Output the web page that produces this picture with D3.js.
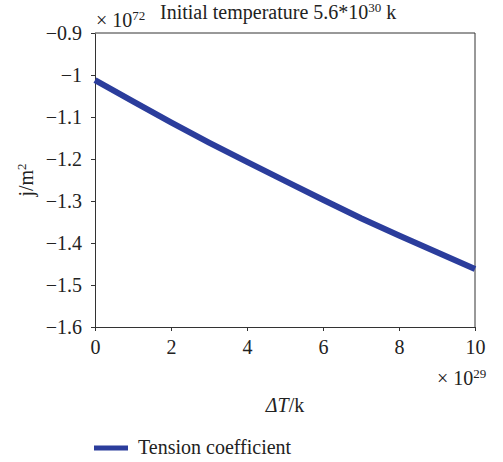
<!DOCTYPE html>
<html>
<head>
<meta charset="utf-8">
<script src="https://cdn.jsdelivr.net/npm/d3@7"></script>
<style>
  body { margin: 0; background: #fff; }
  svg { display: block; }
</style>
</head>
<body>
<svg id="chart" width="503" height="462"></svg>
<script>
// Values (x in units of 1e29 K, y in units of 1e72 J/m^2)
const deltaT = [0, 1, 2, 3, 4, 5, 6, 7, 8, 9, 10];
const tension = [-1.012, -1.063, -1.113, -1.161, -1.207, -1.252, -1.297, -1.341, -1.382, -1.422, -1.462];
const xTicks = [0, 2, 4, 6, 8, 10];
const yTicks = [-0.9, -1, -1.1, -1.2, -1.3, -1.4, -1.5, -1.6];
const seriesName = 'Tension coefficient';

const FONT = 'Liberation Serif';
const FS = 20;
const margin = { top: 33, left: 95, right: 28, bottom: 135 };
const width = 503, height = 462;
const svg = d3.select('#chart')
  .attr('font-family', FONT)
  .attr('fill', '#222');

const x = d3.scaleLinear().domain([0, 10]).range([margin.left, width - margin.right]);
const y = d3.scaleLinear().domain([-1.6, -0.9]).range([height - margin.bottom, margin.top]);

const fmt = d => d3.format('')(d).replace('-', '\u2212');

function styleAxis(g) {
  g.attr('font-family', FONT).attr('font-size', FS);
  g.selectAll('.domain, .tick line').attr('stroke', '#333');
  g.selectAll('.tick text').attr('fill', '#222');
}

// Axes box
svg.append('g')
  .attr('transform', `translate(0,${y(-1.6)})`)
  .call(d3.axisBottom(x).tickValues(xTicks).tickSize(4).tickSizeOuter(0).tickPadding(9).tickFormat(fmt))
  .call(styleAxis);
svg.append('g')
  .attr('transform', `translate(${x(0)},0)`)
  .call(d3.axisLeft(y).tickValues(yTicks).tickSize(4).tickSizeOuter(0).tickPadding(9).tickFormat(fmt))
  .call(styleAxis);
svg.append('line')
  .attr('x1', x(0)).attr('x2', x(10)).attr('y1', y(-0.9)).attr('y2', y(-0.9))
  .attr('stroke', '#333');
svg.append('line')
  .attr('x1', x(10)).attr('x2', x(10)).attr('y1', y(-0.9)).attr('y2', y(-1.6))
  .attr('stroke', '#333');

// Line
const line = d3.line().x((d, i) => x(deltaT[i])).y(d => y(d));
svg.append('path')
  .datum(tension)
  .attr('d', line)
  .attr('fill', 'none')
  .attr('stroke', '#2b3d9c')
  .attr('stroke-width', 6);

// Exponent annotations
function powerText(px, py, base, exp, after) {
  const t = svg.append('text').attr('x', px).attr('y', py).attr('font-size', FS);
  t.append('tspan').text(base);
  t.append('tspan').attr('dy', -7).attr('font-size', 13).text(exp);
  if (after) t.append('tspan').attr('dy', 7).text(after);
  return t;
}
powerText(96, 27, '\u00d7 10', '72');
powerText(437, 385, '\u00d7 10', '29');

// Title
powerText(160, 19, 'Initial temperature 5.6*10', '30', ' k');

// Axis labels
const yl = svg.append('text')
  .attr('transform', `translate(33,${(y(-0.9) + y(-1.6)) / 2}) rotate(-90)`)
  .attr('text-anchor', 'middle').attr('font-size', FS);
yl.append('tspan').text('j/m');
yl.append('tspan').attr('dy', -7).attr('font-size', 13).text('2');

const xl = svg.append('text')
  .attr('x', x(5)).attr('y', 412)
  .attr('text-anchor', 'middle').attr('font-size', FS);
xl.append('tspan').attr('font-style', 'italic').text('\u0394T');
xl.append('tspan').text('/k');

// Legend
svg.append('line')
  .attr('x1', 94).attr('x2', 128).attr('y1', 448).attr('y2', 448)
  .attr('stroke', '#2b3d9c').attr('stroke-width', 5);
svg.append('text')
  .attr('x', 138).attr('y', 454).attr('font-size', FS)
  .text(seriesName);
</script>
</body>
</html>
